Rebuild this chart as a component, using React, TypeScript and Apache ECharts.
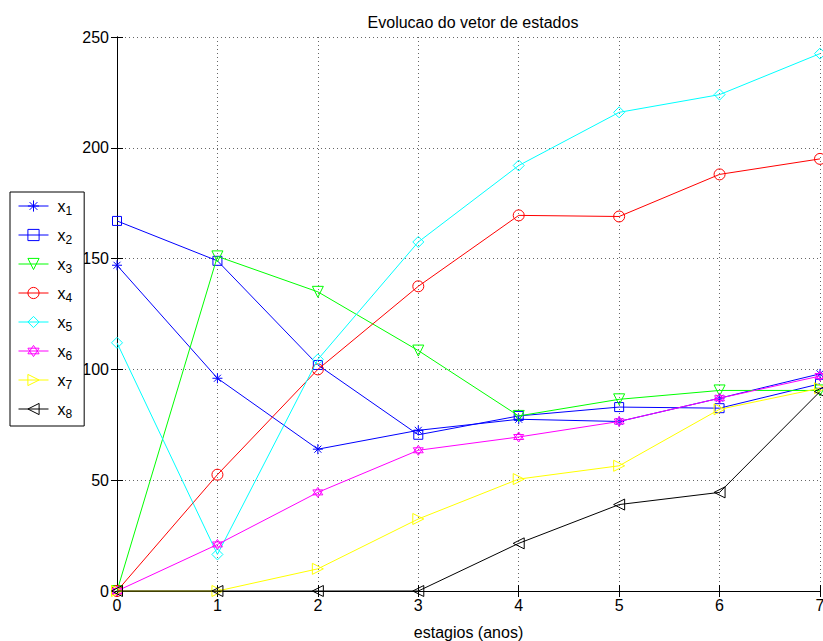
import React, { useEffect, useRef } from "react";
import * as echarts from "echarts";

const stages = [0, 1, 2, 3, 4, 5, 6, 7];
const x1 = [147, 96, 64, 72.5, 77.5, 76.5, 87, 98];
const x2 = [167, 149, 102, 70.5, 79, 83, 82.5, 93.5];
const x3 = [0, 151, 135, 108.5, 79, 86.5, 90.5, 90.5];
const x4 = [0, 52.5, 100, 137.5, 169.5, 169, 188, 195];
const x5 = [112, 16.5, 104.5, 157.5, 192, 216, 224, 242.5];
const x6 = [0, 21, 44.5, 63.5, 69.5, 76.5, 87, 97];
const x7 = [0, 0, 10, 32.5, 50.5, 56.5, 82, 91.5];
const x8 = [0, 0, 0, 0, 21.5, 39, 44.5, 90];

const seriesNames = ["x1", "x2", "x3", "x4", "x5", "x6", "x7", "x8"];
const seriesValues = [x1, x2, x3, x4, x5, x6, x7, x8];
const seriesColors = ["#0000ff", "#0000ff", "#00ff00", "#ff0000", "#00ffff", "#ff00ff", "#ffff00", "#000000"];
const seriesSymbols = [
  "path://M5,0L5,10M0,5L10,5M1.5,1.5L8.5,8.5M8.5,1.5L1.5,8.5",
  "path://M0,0L10,0L10,10L0,10Z",
  "path://M0,0L10,0L5,10Z",
  "path://M10,5A5,5,0,1,1,0,5A5,5,0,1,1,10,5Z",
  "path://M5,0L10,5L5,10L0,5Z",
  "path://M5,0L9.33,7.5L0.67,7.5ZM5,10L0.67,2.5L9.33,2.5Z",
  "path://M0,0L10,5L0,10Z",
  "path://M10,0L0,5L10,10Z",
];
const symbolSizes = [10, 9, 11, 11, 11, 10, 11, 11];

const yTicks = { min: 0, max: 250, interval: 50 };
const xTicks = { min: 0, max: 7, interval: 1 };

const FONT = "Liberation Sans, Arial, sans-serif";

export default function App() {
  const ref = useRef<HTMLDivElement>(null);
  useEffect(() => {
    document.body.style.margin = "0";
    const chart = echarts.init(ref.current!, undefined, { renderer: "svg" });
    const axisLine = { show: true, lineStyle: { color: "#000", width: 1 } };
    const tick = { show: true, inside: true, length: 6, lineStyle: { color: "#000" } };
    const split = { show: true, lineStyle: { color: "#666", type: [1, 3] as any, width: 1 } };
    const series = seriesNames.map((name, i) => ({
      name,
      type: "line",
      data: stages.map((s, j) => [s, seriesValues[i][j]]),
      symbol: seriesSymbols[i],
      symbolSize: symbolSizes[i],
      showAllSymbol: true,
      clip: false,
      color: seriesColors[i],
      lineStyle: { color: seriesColors[i], width: 1 },
      itemStyle: { color: "rgba(0,0,0,0)", borderColor: seriesColors[i], borderWidth: 1 },
      emphasis: { disabled: true },
      z: 2 + i,
    }));
    chart.setOption({
      animation: false,
      backgroundColor: "#fff",
      title: {
        text: "Evolucao do vetor de estados",
        left: 468,
        textAlign: "center",
        top: 9,
        textStyle: { fontFamily: FONT, fontSize: 16, fontWeight: "normal", color: "#000" },
      },
      legend: {
        orient: "vertical",
        left: 10,
        top: 192,
        padding: [6, 12, 6, 8],
        itemWidth: 30,
        itemHeight: 14,
        itemGap: 10,
        borderColor: "#000",
        borderWidth: 1,
        backgroundColor: "#fff",
        itemStyle: { color: "rgba(0,0,0,0)", borderWidth: 1 },
        lineStyle: { width: 1 },
        data: seriesNames,
        formatter: (name: string) => "x{s|" + name.slice(1) + "}",
        textStyle: {
          fontFamily: FONT,
          fontSize: 16,
          color: "#000",
          padding: [0, 0, 0, 4],
          rich: { s: { fontFamily: FONT, fontSize: 12, color: "#000", verticalAlign: "bottom", padding: [10, 0, 0, 0] } },
        },
      },
      grid: { left: 117, right: 3, top: 37, bottom: 50, containLabel: false, outerBoundsMode: "none" },
      xAxis: [
        {
          type: "value",
          ...xTicks,
          position: "bottom",
          name: "estagios (anos)",
          nameLocation: "middle",
          nameGap: 33,
          nameTextStyle: { fontFamily: FONT, fontSize: 16, color: "#000" },
          axisLine,
          axisTick: tick,
          splitLine: split,
          axisLabel: { fontFamily: FONT, fontSize: 16, color: "#000", margin: 6 },
        },
        {
          type: "value",
          ...xTicks,
          position: "top",
          axisLine,
          axisTick: tick,
          splitLine: { show: false },
          axisLabel: { show: false },
        },
      ],
      yAxis: [
        {
          type: "value",
          ...yTicks,
          position: "left",
          axisLine,
          axisTick: tick,
          splitLine: split,
          axisLabel: { fontFamily: FONT, fontSize: 16, color: "#000", margin: 8 },
        },
        {
          type: "value",
          ...yTicks,
          position: "right",
          axisLine,
          axisTick: tick,
          splitLine: { show: false },
          axisLabel: { show: false },
        },
      ],
      series,
    });
    return () => chart.dispose();
  }, []);
  return <div ref={ref} style={{ width: 823, height: 641, position: "absolute", left: 0, top: 0 }} />;
}
